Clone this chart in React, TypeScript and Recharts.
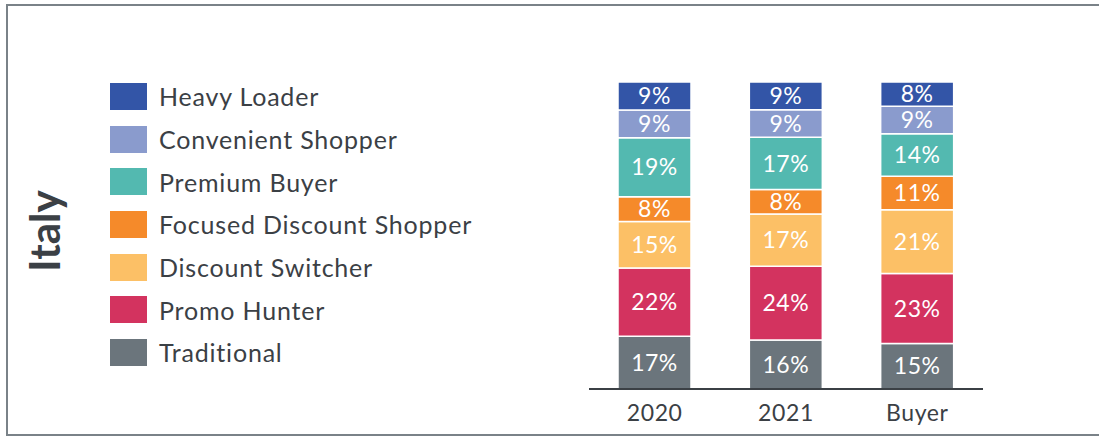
import { BarChart, Bar, XAxis, YAxis, Legend, LabelList } from "recharts";

const categories = ["2020", "2021", "Buyer"];

// bottom to top
const traditional = [17, 16, 15];
const promoHunter = [22, 24, 23];
const discountSwitcher = [15, 17, 21];
const focusedDiscount = [8, 8, 11];
const premiumBuyer = [19, 17, 14];
const convenientShopper = [9, 9, 9];
const heavyLoader = [9, 9, 8];

const series = [
  { key: "traditional", name: "Traditional", values: traditional, color: "#6b757c" },
  { key: "promo", name: "Promo Hunter", values: promoHunter, color: "#d3335f" },
  { key: "switcher", name: "Discount Switcher", values: discountSwitcher, color: "#fcc066" },
  { key: "focused", name: "Focused Discount Shopper", values: focusedDiscount, color: "#f58a2a" },
  { key: "premium", name: "Premium Buyer", values: premiumBuyer, color: "#53b9b0" },
  { key: "convenient", name: "Convenient Shopper", values: convenientShopper, color: "#8a9bcd" },
  { key: "heavy", name: "Heavy Loader", values: heavyLoader, color: "#3355a7" },
];

const data = categories.map((c, i) => {
  const row: Record<string, string | number> = { name: c };
  series.forEach((s) => {
    row[s.key] = s.values[i];
  });
  return row;
});

const FONT = "Lato, 'Open Sans', sans-serif";
const TEXT = "#3b4045";

// legend top-to-bottom = stack top-to-bottom
function LegendList() {
  const items = [...series].reverse();
  return (
    <div style={{ fontFamily: FONT }}>
      {items.map((it) => (
        <div
          key={it.key}
          style={{ display: "flex", alignItems: "center", height: 42.7 }}
        >
          <span
            style={{
              display: "inline-block",
              width: 37,
              height: 27,
              background: it.color,
              marginRight: 12,
            }}
          />
          <span style={{ fontSize: 25, letterSpacing: 0.8, color: TEXT, whiteSpace: "nowrap" }}>
            {it.name}
          </span>
        </div>
      ))}
    </div>
  );
}

export default function App() {
  return (
    <div style={{ position: "absolute", left: 0, top: 0, width: 1099, height: 436, background: "#fff" }}>
      <div
        style={{
          position: "absolute",
          left: 6,
          top: 4,
          width: 1110,
          height: 428,
          border: "2px solid #7a8288",
        }}
      />
      <svg style={{ position: "absolute", left: 0, top: 0 }} width={100} height={436}>
        <text
          transform="translate(60,231) rotate(-90)"
          textAnchor="middle"
          fontFamily={FONT}
          fontWeight={700}
          fontSize={42}
          fill={TEXT}
        >
          Italy
        </text>
      </svg>
      <div style={{ position: "absolute", left: 0, top: 0 }}>
        <BarChart
          width={1099}
          height={436}
          data={data}
          stackOffset="expand"
          barSize={73}
          margin={{ top: 82, right: 116, bottom: 7, left: 589 }}
        >
          <XAxis
            dataKey="name"
            height={40}
            tickLine={false}
            axisLine={{ stroke: "#3b4045", strokeWidth: 2 }}
            tick={{ fill: TEXT, fontSize: 23, fontFamily: FONT, letterSpacing: 0.6 }}
            tickMargin={10}
          />
          <YAxis hide domain={[0, 1]} />
          <Legend
            layout="vertical"
            align="center"
            verticalAlign="middle"
            content={<LegendList />}
            wrapperStyle={{ left: 110, top: 75, width: 440 }}
          />
          {series.map((s) => (
            <Bar
              key={s.key}
              dataKey={s.key}
              name={s.name}
              stackId="a"
              fill={s.color}
              stroke="#ffffff"
              strokeWidth={1.5}
              isAnimationActive={false}
            >
              <LabelList
                dataKey={s.key}
                position="center"
                formatter={(v: any) => `${v}%`}
                fill="#ffffff"
                fontSize={23}
                fontFamily={FONT}
                letterSpacing={0.5}
              />
            </Bar>
          ))}
        </BarChart>
      </div>
    </div>
  );
}
